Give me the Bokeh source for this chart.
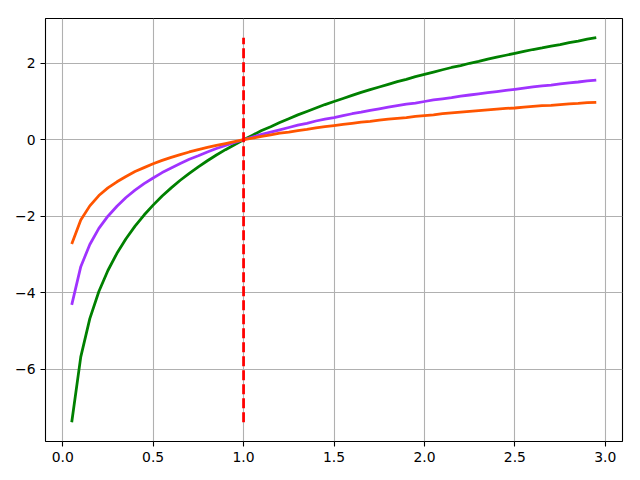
from bokeh.plotting import figure
from bokeh.models import Range1d, FixedTicker
from bokeh.embed import file_html
from bokeh.resources import INLINE

x = [0.05, 0.10, 0.15, 0.20, 0.25, 0.30, 0.35, 0.40, 0.45, 0.50,
     0.55, 0.60, 0.65, 0.70, 0.75, 0.80, 0.85, 0.90, 0.95, 1.00,
     1.05, 1.10, 1.15, 1.20, 1.25, 1.30, 1.35, 1.40, 1.45, 1.50,
     1.55, 1.60, 1.65, 1.70, 1.75, 1.80, 1.85, 1.90, 1.95, 2.00,
     2.05, 2.10, 2.15, 2.20, 2.25, 2.30, 2.35, 2.40, 2.45, 2.50,
     2.55, 2.60, 2.65, 2.70, 2.75, 2.80, 2.85, 2.90, 2.95]

green_y = [-7.39, -5.68, -4.68, -3.97, -3.42, -2.97, -2.59, -2.26, -1.97, -1.71,
           -1.47, -1.26, -1.06, -0.88, -0.71, -0.55, -0.40, -0.26, -0.13, 0.00,
           0.12, 0.24, 0.34, 0.45, 0.55, 0.65, 0.74, 0.83, 0.92, 1.00,
           1.08, 1.16, 1.24, 1.31, 1.38, 1.45, 1.52, 1.58, 1.65, 1.71,
           1.77, 1.83, 1.89, 1.94, 2.00, 2.05, 2.11, 2.16, 2.21, 2.26,
           2.31, 2.36, 2.40, 2.45, 2.49, 2.54, 2.58, 2.63, 2.67]

purple_y = [-4.32, -3.32, -2.74, -2.32, -2.00, -1.74, -1.51, -1.32, -1.15, -1.00,
            -0.86, -0.74, -0.62, -0.51, -0.42, -0.32, -0.23, -0.15, -0.07, 0.00,
            0.07, 0.14, 0.20, 0.26, 0.32, 0.38, 0.43, 0.49, 0.54, 0.58,
            0.63, 0.68, 0.72, 0.77, 0.81, 0.85, 0.89, 0.93, 0.96, 1.00,
            1.04, 1.07, 1.10, 1.14, 1.17, 1.20, 1.23, 1.26, 1.29, 1.32,
            1.35, 1.38, 1.41, 1.43, 1.46, 1.49, 1.51, 1.54, 1.56]

orange_y = [-2.73, -2.10, -1.73, -1.46, -1.26, -1.10, -0.96, -0.83, -0.73, -0.63,
            -0.54, -0.46, -0.39, -0.32, -0.26, -0.20, -0.15, -0.10, -0.05, 0.00,
            0.04, 0.09, 0.13, 0.17, 0.20, 0.24, 0.27, 0.31, 0.34, 0.37,
            0.40, 0.43, 0.46, 0.48, 0.51, 0.54, 0.56, 0.58, 0.61, 0.63,
            0.65, 0.68, 0.70, 0.72, 0.74, 0.76, 0.78, 0.80, 0.82, 0.83,
            0.85, 0.87, 0.89, 0.90, 0.92, 0.94, 0.95, 0.97, 0.98]

vline_x = [1.0, 1.0]
vline_y = [-7.39, 2.67]

x_ticks = [0.0, 0.5, 1.0, 1.5, 2.0, 2.5, 3.0]
x_tick_labels = ["0.0", "0.5", "1.0", "1.5", "2.0", "2.5", "3.0"]
y_ticks = [-6, -4, -2, 0, 2]
y_tick_labels = ["\u22126", "\u22124", "\u22122", "0", "2"]

p = figure(frame_width=577, frame_height=423, output_backend="svg",
           toolbar_location=None,
           x_range=Range1d(-0.095, 3.095), y_range=Range1d(-7.893, 3.171),
           min_border_left=45, min_border_top=18, min_border_right=18,
           min_border_bottom=39)

p.outline_line_color = "black"
p.outline_line_width = 1.1
p.background_fill_color = "white"
p.border_fill_color = "white"

for ax, ticks, labels in ((p.xaxis[0], x_ticks, x_tick_labels), (p.yaxis[0], y_ticks, y_tick_labels)):
    ax.ticker = FixedTicker(ticks=ticks)
    ax.major_label_overrides = {t: l for t, l in zip(ticks, labels)}
    ax.minor_tick_line_color = None
    ax.major_tick_out = 5
    ax.major_tick_in = 0
    ax.major_tick_line_color = "black"
    ax.major_tick_line_width = 1.1
    ax.axis_line_color = None
    ax.major_label_text_font = "DejaVu Sans"
    ax.major_label_text_font_size = "13.9px"
    ax.major_label_text_color = "black"
    ax.major_label_standoff = 5

p.xgrid.ticker = FixedTicker(ticks=x_ticks)
p.ygrid.ticker = FixedTicker(ticks=y_ticks)
p.xgrid.grid_line_color = "#b0b0b0"
p.ygrid.grid_line_color = "#b0b0b0"
p.xgrid.grid_line_width = 1.1
p.ygrid.grid_line_width = 1.1

p.line(x, green_y, line_color="green", line_width=2.78)
p.line(x, purple_y, line_color="#a033ff", line_width=2.78)
p.line(x, orange_y, line_color="#ff5500", line_width=2.78)
p.line(vline_x, vline_y, line_color="red", line_width=2.78, line_dash="10 4")

open("out.html", "w").write(file_html(p, INLINE))
